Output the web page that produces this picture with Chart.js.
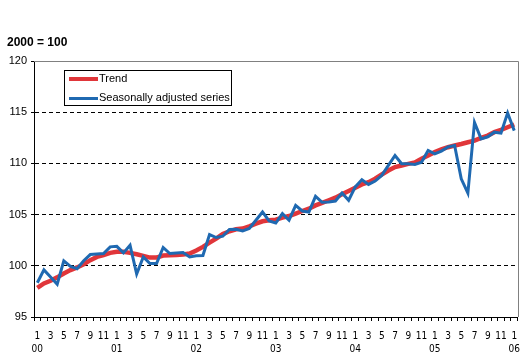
<!DOCTYPE html>
<html lang="en">
<head>
    <meta charset="UTF-8">
    <title>Trend and seasonally adjusted series</title>
    <script src="https://cdn.jsdelivr.net/npm/chart.js@4.4.0/dist/chart.umd.min.js"></script>
    <style>
        body { margin: 0; background: #fff; }
        #wrap { position: relative; width: 529px; height: 362px; font-family: "Liberation Sans", Arial, sans-serif; }
        #title { position: absolute; left: 7px; top: 36px; font-weight: bold; font-size: 12px; line-height: 12px; color: #000; }
        #legend { position: absolute; left: 64px; top: 70px; width: 168px; height: 36px; box-sizing: border-box;
                  border: 1px solid #000; background: #fff; font-size: 11px; color: #000; }
        .item { position: absolute; left: 4px; height: 12px; line-height: 12px; white-space: nowrap; }
        .swatch { display: inline-block; width: 29px; vertical-align: middle; margin-right: 1px; }
    </style>
</head>
<body>
<div id="wrap">
    <canvas id="chart" width="529" height="362"></canvas>
    <div id="title">2000 = 100</div>
    <div id="legend">
        <div class="item" style="top:1px"><span class="swatch" style="height:4px;background:#e0363a"></span>Trend</div>
        <div class="item" style="top:20px"><span class="swatch" style="height:3px;background:#1f69b1"></span>Seasonally adjusted series</div>
    </div>
</div>

<script>
// months Jan 2000 .. Jan 2006
var monthLabels = [];
var years = ["00", "01", "02", "03", "04", "05", "06"];
for (var y = 0; y < years.length; y++) {
    for (var m = 1; m <= 12; m++) {
        if (y === years.length - 1 && m > 1) break;
        if (m === 1) monthLabels.push(["1", years[y]]);
        else if (m % 2 === 1) monthLabels.push(String(m));
        else monthLabels.push("");
    }
}

var trend = [
    97.85, 98.28, 98.54, 98.87, 99.25, 99.58, 99.84, 100.16, 100.55, 100.87, 101.04, 101.26,
    101.36, 101.36, 101.26, 101.13, 100.97, 100.8, 100.8, 101.0, 101.04, 101.05, 101.1, 101.2,
    101.5, 101.85, 102.27, 102.66, 103.1, 103.37, 103.57, 103.64, 103.86, 104.12, 104.35, 104.45,
    104.5, 104.7, 104.86, 105.1, 105.35, 105.58, 105.9, 106.15, 106.4, 106.65, 106.98, 107.3,
    107.63, 107.95, 108.17, 108.5, 108.92, 109.3, 109.64, 109.8, 109.95, 110.1, 110.45, 110.77,
    111.1, 111.36, 111.58, 111.75, 111.9, 112.07, 112.23, 112.5, 112.72, 113.05, 113.27, 113.53,
    113.8
];

var seasonal = [
    98.34, 99.6, 98.9, 98.2, 100.48, 99.95, 99.72, 100.5, 101.1, 101.15, 101.2, 101.85,
    101.9, 101.26, 102.0, 99.2, 100.87, 100.22, 100.22, 101.79, 101.2, 101.25, 101.3, 100.87,
    100.97, 101.0, 103.05, 102.76, 102.89, 103.54, 103.57, 103.4, 103.64, 104.45, 105.25, 104.38,
    104.18, 105.1, 104.45, 105.9, 105.35, 105.25, 106.78, 106.2, 106.23, 106.33, 107.1, 106.4,
    107.7, 108.4, 107.95, 108.27, 108.83, 109.8, 110.77, 109.96, 109.96, 109.9, 110.12, 111.26,
    110.94, 111.2, 111.6, 111.75, 108.5, 107.1, 114.0, 112.4, 112.6, 113.05, 112.95, 114.93,
    113.2
];

var yMin = 95, yMax = 120, yStep = 5;

// grey frame on top and right like the original
var framePlugin = {
    id: "frame",
    afterDraw: function(chart) {
        var a = chart.chartArea, ctx = chart.ctx;
        ctx.save();
        ctx.strokeStyle = "#808080";
        ctx.lineWidth = 1;
        ctx.beginPath();
        ctx.moveTo(a.left, Math.round(a.top) + 0.5);
        ctx.lineTo(Math.round(a.right) + 0.5, Math.round(a.top) + 0.5);
        ctx.lineTo(Math.round(a.right) + 0.5, a.bottom);
        ctx.stroke();
        ctx.restore();
    }
};

new Chart(document.getElementById("chart").getContext("2d"), {
    type: "line",
    data: {
        labels: monthLabels,
        datasets: [
            {
                label: "Trend",
                data: trend,
                borderColor: "#e0363a",
                borderWidth: 4.5,
                pointRadius: 0,
                tension: 0,
                fill: false,
                order: 2
            },
            {
                label: "Seasonally adjusted series",
                data: seasonal,
                borderColor: "#1f69b1",
                borderWidth: 3,
                pointRadius: 0,
                tension: 0,
                fill: false,
                order: 1
            }
        ]
    },
    options: {
        responsive: false,
        animation: false,
        devicePixelRatio: 1,
        layout: { padding: { left: 0, right: 5, top: 61, bottom: 0 } },
        plugins: {
            legend: { display: false },
            title: { display: false },
            tooltip: { enabled: false }
        },
        scales: {
            x: {
                type: "category",
                offset: true,
                afterFit: function(scale) { scale.height = 45; },
                grid: {
                    drawOnChartArea: false,
                    offset: true,
                    tickLength: 4,
                    tickColor: "#000"
                },
                border: { color: "#000", width: 1 },
                ticks: {
                    autoSkip: false,
                    maxRotation: 0,
                    minRotation: 0,
                    padding: 9,
                    color: "#000",
                    font: { family: "'Liberation Sans Narrow', 'DejaVu Sans Condensed', 'Liberation Sans', sans-serif", size: 10, lineHeight: 1.3 }
                }
            },
            y: {
                min: yMin,
                max: yMax,
                afterFit: function(scale) { scale.width = 34; },
                grid: {
                    color: function(ctx) {
                        return (ctx.tick && ctx.tick.value > yMin && ctx.tick.value < yMax) ? "#000" : "rgba(0,0,0,0)";
                    },
                    tickLength: 3,
                    tickColor: "#000"
                },
                border: { color: "#000", width: 1, dash: [4, 3] },
                ticks: {
                    stepSize: yStep,
                    padding: 4,
                    color: "#000",
                    font: { family: "'Liberation Sans', Arial, sans-serif", size: 11 }
                }
            }
        }
    },
    plugins: [framePlugin]
});
</script>
</body>
</html>
